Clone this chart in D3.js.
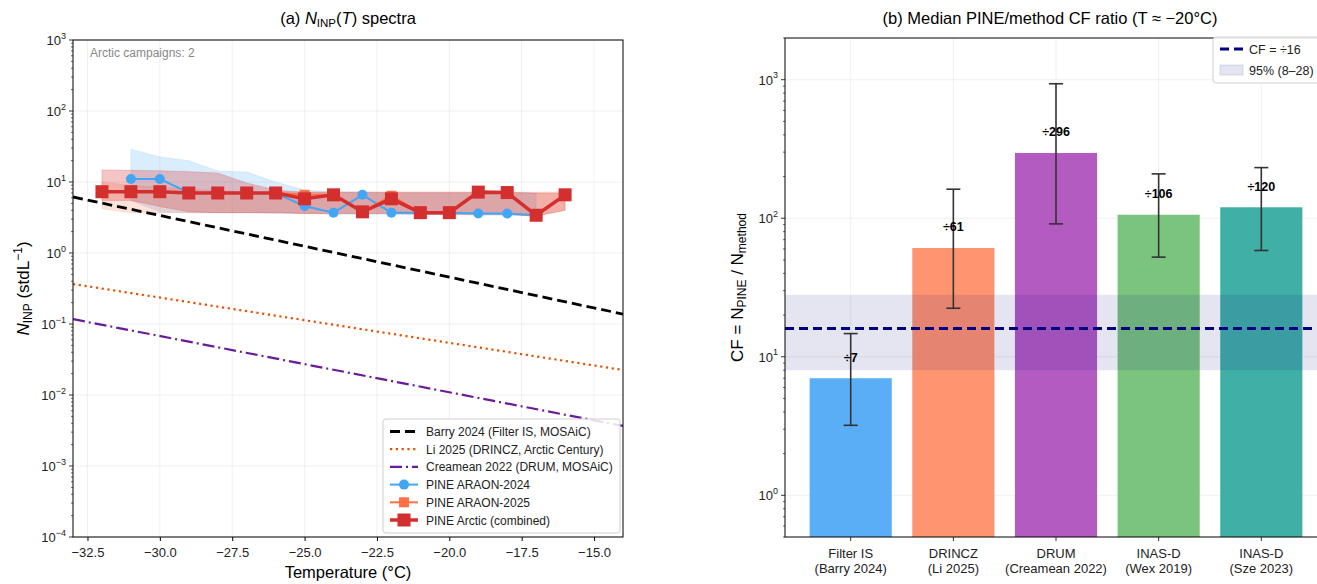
<!DOCTYPE html>
<html lang="en">
<head>
<meta charset="UTF-8">
<title>PINE Arctic INP spectra and CF ratio</title>
<script src="https://cdnjs.cloudflare.com/ajax/libs/d3/7.8.5/d3.min.js"></script>
<style>
  body { margin: 0; background: #fff; }
  svg { font-family: "Liberation Sans", Arial, sans-serif; }
</style>
</head>
<body>
<div id="chart"></div>
<script>
// ---- panel (a): N_INP(T) spectra ----
var tempAll = [-32, -31, -30, -29, -28, -27, -26, -25, -24, -23, -22, -21, -20, -19, -18, -17, -16];
var combinedVals = [7.3, 7.3, 7.3, 7.0, 7.0, 7.0, 7.0, 5.8, 6.6, 3.8, 5.8, 3.7, 3.7, 7.2, 7.1, 3.4, 6.6];
var combinedLo = [5.5, 5.5, 4.5, 3.8, 3.7, 3.7, 3.7, 3.6, 3.6, 3.6, 3.6, 3.5, 3.5, 3.5, 3.5, 3.3, 4.0];
var combinedHi = [14.8, 14.6, 14.4, 14.0, 13.4, 9.7, 7.7, 7.2, 7.2, 7.2, 7.2, 7.2, 7.2, 7.2, 7.2, 7.0, 7.0];
var araon25Vals = [7.3, 7.3, 7.3, 7.0, 7.0, 7.0, 7.0, 6.6, 6.6, 3.8, 6.4, 3.7, 3.7, 7.2, 7.1, 3.4, 6.6];
var araon25Lo = [4.2, 3.7, 3.7, 3.7, 3.7, 3.7, 3.7, 3.6, 3.6, 3.6, 3.6, 3.5, 3.5, 3.5, 3.5, 3.3, 4.0];
var araon25Hi = [10, 9, 8.5, 8, 7.5, 7.3, 7.3, 7.2, 7.2, 7.2, 7.2, 7.2, 7.2, 7.2, 7.2, 7.2, 7.3];

var temp24 = [-31, -30, -29, -28, -27, -26, -25, -24, -23, -22, -21, -20, -19, -18, -17];
var araon24Vals = [11.0, 11.0, 7.1, 7.0, 7.0, 6.9, 4.6, 3.7, 6.6, 3.7, 3.7, 3.7, 3.6, 3.6, 3.4];
var araon24Lo = [5.5, 3.8, 3.7, 3.7, 3.7, 3.6, 3.6, 3.5, 3.5, 3.5, 3.5, 3.5, 3.4, 3.4, 3.3];
var araon24Hi = [29, 22.5, 20, 14.3, 13.8, 10, 7.7, 7.2, 7.2, 7.0, 7.0, 7.0, 7.0, 7.0, 7.0];

// literature parameterisations (straight lines in log space, read at the axis ends)
var refTemps = [-33, -14];
var barryVals = [6.15, 0.138];
var liVals = [0.366, 0.0225];
var creameanVals = [0.117, 0.00366];

var xTicksA = [-32.5, -30, -27.5, -25, -22.5, -20, -17.5, -15];
var yDecadesA = [-4, -3, -2, -1, 0, 1, 2, 3];

// ---- panel (b): CF ratio ----
var methodNames = ["Filter IS", "DRINCZ", "DRUM", "INAS-D", "INAS-D"];
var methodRefs = ["(Barry 2024)", "(Li 2025)", "(Creamean 2022)", "(Wex 2019)", "(Sze 2023)"];
var cfMedian = [7, 61, 296, 106, 120];
var cfLow = [3.2, 22.4, 91, 52.4, 58.5];
var cfHigh = [14.7, 162, 935, 209, 232];
var barColors = ["#5aaef5", "#ff9470", "#b35bc1", "#7ac47d", "#40afa5"];
var cfOverall = 16;
var cfRange = [8, 28];
var yDecadesB = [0, 1, 2, 3];

var W = 1317, H = 584;
var svg = d3.select("#chart").append("svg").attr("width", W).attr("height", H);

function supText(sel, base, exp) {
  sel.text(base);
  sel.append("tspan").attr("dy", -6.5).attr("font-size", 9)
    .text(exp < 0 ? "\u2212" + (-exp) : exp);
}

// ================= panel (a) =================
var A = {l: 73, r: 623, t: 40, b: 537};
var xA = d3.scaleLinear().domain([-33, -14]).range([A.l, A.r]);
var yA = d3.scaleLog().domain([1e-4, 1e3]).range([A.b, A.t]);

svg.append("clipPath").attr("id", "clipA").append("rect")
  .attr("x", A.l).attr("y", A.t).attr("width", A.r - A.l).attr("height", A.b - A.t);

var gA = svg.append("g");
// grid
gA.selectAll(".vgrid").data(xTicksA).enter().append("line")
  .attr("x1", d => xA(d)).attr("x2", d => xA(d)).attr("y1", A.t).attr("y2", A.b)
  .attr("stroke", "#ececec").attr("stroke-width", 0.8);
gA.selectAll(".hgrid").data(yDecadesA).enter().append("line")
  .attr("x1", A.l).attr("x2", A.r).attr("y1", d => yA(Math.pow(10, d))).attr("y2", d => yA(Math.pow(10, d)))
  .attr("stroke", "#ececec").attr("stroke-width", 0.8);

var plotA = gA.append("g").attr("clip-path", "url(#clipA)");

function bandData(ts, lo, hi) { return ts.map((t, i) => ({t: t, lo: lo[i], hi: hi[i]})); }
var area = d3.area().x(d => xA(d.t)).y0(d => yA(d.lo)).y1(d => yA(d.hi));
plotA.append("path").datum(bandData(temp24, araon24Lo, araon24Hi)).attr("d", area)
  .attr("fill", "#42a5f5").attr("fill-opacity", 0.2).attr("stroke", "#42a5f5").attr("stroke-opacity", 0.15);
plotA.append("path").datum(bandData(tempAll, araon25Lo, araon25Hi)).attr("d", area)
  .attr("fill", "#ff7043").attr("fill-opacity", 0.2).attr("stroke", "#ff7043").attr("stroke-opacity", 0.15);
plotA.append("path").datum(bandData(tempAll, combinedLo, combinedHi)).attr("d", area)
  .attr("fill", "#d32f2f").attr("fill-opacity", 0.28).attr("stroke", "#d32f2f").attr("stroke-opacity", 0.2);

var line = d3.line().x(d => xA(d[0])).y(d => yA(d[1]));
function pairs(ts, vs) { return ts.map((t, i) => [t, vs[i]]); }

plotA.append("path").datum(pairs(refTemps, barryVals)).attr("d", line)
  .attr("fill", "none").attr("stroke", "#000").attr("stroke-width", 2.8).attr("stroke-dasharray", "10,5");
plotA.append("path").datum(pairs(refTemps, liVals)).attr("d", line)
  .attr("fill", "none").attr("stroke", "#e65100").attr("stroke-width", 2.2).attr("stroke-dasharray", "2.2,3.6");
plotA.append("path").datum(pairs(refTemps, creameanVals)).attr("d", line)
  .attr("fill", "none").attr("stroke", "#6a1b9a").attr("stroke-width", 2.2).attr("stroke-dasharray", "12,4,2,4");

// ARAON-2024
plotA.append("path").datum(pairs(temp24, araon24Vals)).attr("d", line)
  .attr("fill", "none").attr("stroke", "#42a5f5").attr("stroke-width", 2);
plotA.selectAll(".c24").data(pairs(temp24, araon24Vals)).enter().append("circle")
  .attr("cx", d => xA(d[0])).attr("cy", d => yA(d[1])).attr("r", 5).attr("fill", "#42a5f5");
// ARAON-2025
plotA.append("path").datum(pairs(tempAll, araon25Vals)).attr("d", line)
  .attr("fill", "none").attr("stroke", "#ff7043").attr("stroke-width", 2);
plotA.selectAll(".s25").data(pairs(tempAll, araon25Vals)).enter().append("rect")
  .attr("x", d => xA(d[0]) - 5).attr("y", d => yA(d[1]) - 5).attr("width", 10).attr("height", 10)
  .attr("fill", "#ff7043");
// combined
plotA.append("path").datum(pairs(tempAll, combinedVals)).attr("d", line)
  .attr("fill", "none").attr("stroke", "#d32f2f").attr("stroke-width", 3.5);
plotA.selectAll(".sc").data(pairs(tempAll, combinedVals)).enter().append("rect")
  .attr("x", d => xA(d[0]) - 6.5).attr("y", d => yA(d[1]) - 6.5).attr("width", 13).attr("height", 13)
  .attr("fill", "#d32f2f");

// axes (a)
var axA = d3.axisBottom(xA).tickValues(xTicksA).tickSize(4).tickSizeOuter(0)
  .tickFormat(d3.format(".1f"));
var gxA = gA.append("g").attr("transform", "translate(0," + A.b + ")").call(axA);
gxA.select(".domain").remove();
gxA.selectAll("text").attr("font-size", 13).attr("font-family", "Liberation Sans, Arial").attr("dy", "1.0em").attr("fill", "#222");

var minorA = [];
yDecadesA.forEach(function(e) { if (e < 3) for (var k = 2; k <= 9; k++) minorA.push(k * Math.pow(10, e)); });
gA.selectAll(".minA").data(minorA).enter().append("line")
  .attr("x1", A.l - 2).attr("x2", A.l).attr("y1", d => yA(d)).attr("y2", d => yA(d))
  .attr("stroke", "#000").attr("stroke-width", 0.6);
gA.selectAll(".majA").data(yDecadesA).enter().append("line")
  .attr("x1", A.l - 4).attr("x2", A.l).attr("y1", d => yA(Math.pow(10, d))).attr("y2", d => yA(Math.pow(10, d)))
  .attr("stroke", "#000").attr("stroke-width", 0.8);
gA.selectAll(".labA").data(yDecadesA).enter().append("text")
  .attr("x", A.l - 7).attr("y", d => yA(Math.pow(10, d)) + 5).attr("text-anchor", "end")
  .attr("font-size", 13).attr("fill", "#222")
  .each(function(d) { supText(d3.select(this), "10", d); });

gA.append("rect").attr("x", A.l).attr("y", A.t).attr("width", A.r - A.l).attr("height", A.b - A.t)
  .attr("fill", "none").attr("stroke", "#000").attr("stroke-width", 1);

// titles & labels (a)
var tA = gA.append("text").attr("x", (A.l + A.r) / 2).attr("y", 24).attr("text-anchor", "middle").attr("font-size", 16.5);
tA.append("tspan").text("(a) ");
tA.append("tspan").attr("font-style", "italic").text("N");
tA.append("tspan").attr("font-size", 11.5).attr("dy", 3).text("INP");
tA.append("tspan").attr("dy", -3).text("(");
tA.append("tspan").attr("font-style", "italic").text("T");
tA.append("tspan").text(") spectra");

gA.append("text").attr("x", (A.l + A.r) / 2).attr("y", 578).attr("text-anchor", "middle")
  .attr("font-size", 16.5).text("Temperature (\u00b0C)");

var ylA = gA.append("text").attr("transform", "translate(29," + ((A.t + A.b) / 2) + ") rotate(-90)")
  .attr("text-anchor", "middle").attr("font-size", 17);
ylA.append("tspan").attr("font-style", "italic").text("N");
ylA.append("tspan").attr("font-size", 12).attr("dy", 3).text("INP");
ylA.append("tspan").attr("dy", -3).text(" (stdL");
ylA.append("tspan").attr("font-size", 12).attr("dy", -7).text("\u22121");
ylA.append("tspan").attr("dy", 7).text(")");

gA.append("text").attr("x", 90).attr("y", 57).attr("font-size", 12).attr("fill", "#888")
  .text("Arctic campaigns: 2");

// legend (a)
var legA = gA.append("g").attr("transform", "translate(383,419)");
legA.append("rect").attr("width", 237).attr("height", 114).attr("rx", 3)
  .attr("fill", "#fff").attr("fill-opacity", 0.85).attr("stroke", "#d0d0d0");
var legItems = [
  {label: "Barry 2024 (Filter IS, MOSAiC)", color: "#000", w: 2.8, dash: "10,5"},
  {label: "Li 2025 (DRINCZ, Arctic Century)", color: "#e65100", w: 2.2, dash: "2.2,3.6"},
  {label: "Creamean 2022 (DRUM, MOSAiC)", color: "#6a1b9a", w: 2.2, dash: "12,4,2,4"},
  {label: "PINE ARAON-2024", color: "#42a5f5", w: 2, marker: "circle", ms: 5},
  {label: "PINE ARAON-2025", color: "#ff7043", w: 2, marker: "square", ms: 10},
  {label: "PINE Arctic (combined)", color: "#d32f2f", w: 3.5, marker: "square", ms: 13}
];
legItems.forEach(function(it, i) {
  var y = 12.5 + i * 17.7;
  legA.append("line").attr("x1", 7).attr("x2", 35).attr("y1", y).attr("y2", y)
    .attr("stroke", it.color).attr("stroke-width", it.w).attr("stroke-dasharray", it.dash || null);
  if (it.marker === "circle") legA.append("circle").attr("cx", 21).attr("cy", y).attr("r", it.ms).attr("fill", it.color);
  if (it.marker === "square") legA.append("rect").attr("x", 21 - it.ms / 2).attr("y", y - it.ms / 2)
    .attr("width", it.ms).attr("height", it.ms).attr("fill", it.color);
  legA.append("text").attr("x", 43).attr("y", y + 4.5).attr("font-size", 12).attr("fill", "#222").text(it.label);
});

// ================= panel (b) =================
var B = {l: 785, r: 1327, t: 38, b: 537};
var xB = d3.scaleLinear().domain([-0.64, 4.64]).range([B.l, B.r]);
var yB = d3.scaleLog().domain([0.5, 2000]).range([B.b, B.t]);
var gB = svg.append("g");

var idx = d3.range(cfMedian.length);
gB.selectAll(".vgB").data(idx).enter().append("line")
  .attr("x1", d => xB(d)).attr("x2", d => xB(d)).attr("y1", B.t).attr("y2", B.b)
  .attr("stroke", "#ececec").attr("stroke-width", 0.8);
gB.selectAll(".hgB").data(yDecadesB).enter().append("line")
  .attr("x1", B.l).attr("x2", B.r).attr("y1", d => yB(Math.pow(10, d))).attr("y2", d => yB(Math.pow(10, d)))
  .attr("stroke", "#ececec").attr("stroke-width", 0.8);

var bw = xB(0.4) - xB(-0.4);
gB.selectAll(".bar").data(idx).enter().append("rect")
  .attr("x", d => xB(d - 0.4)).attr("width", bw)
  .attr("y", d => yB(cfMedian[d])).attr("height", d => yB(0.5) - yB(cfMedian[d]))
  .attr("fill", d => barColors[d]);

// 95% band + overall CF
gB.append("rect").attr("x", B.l).attr("width", B.r - B.l)
  .attr("y", yB(cfRange[1])).attr("height", yB(cfRange[0]) - yB(cfRange[1]))
  .attr("fill", "#000080").attr("fill-opacity", 0.1);
gB.append("line").attr("x1", B.l).attr("x2", B.r).attr("y1", yB(cfOverall)).attr("y2", yB(cfOverall))
  .attr("stroke", "#000080").attr("stroke-width", 2.8).attr("stroke-dasharray", "9,5");

// error bars
var eb = gB.selectAll(".eb").data(idx).enter().append("g");
eb.append("line").attr("x1", d => xB(d)).attr("x2", d => xB(d))
  .attr("y1", d => yB(cfLow[d])).attr("y2", d => yB(cfHigh[d])).attr("stroke", "#333").attr("stroke-width", 1.6);
eb.append("line").attr("x1", d => xB(d) - 7).attr("x2", d => xB(d) + 7)
  .attr("y1", d => yB(cfLow[d])).attr("y2", d => yB(cfLow[d])).attr("stroke", "#333").attr("stroke-width", 1.6);
eb.append("line").attr("x1", d => xB(d) - 7).attr("x2", d => xB(d) + 7)
  .attr("y1", d => yB(cfHigh[d])).attr("y2", d => yB(cfHigh[d])).attr("stroke", "#333").attr("stroke-width", 1.6);
eb.append("text").attr("x", d => xB(d)).attr("y", d => yB(cfMedian[d] * 1.32))
  .attr("text-anchor", "middle").attr("font-size", 12.5).attr("font-weight", "bold")
  .text(d => "\u00f7" + cfMedian[d]);

// axes (b)
gB.selectAll(".tkB").data(idx).enter().append("line")
  .attr("x1", d => xB(d)).attr("x2", d => xB(d)).attr("y1", B.b).attr("y2", B.b + 4)
  .attr("stroke", "#000").attr("stroke-width", 0.8);
var xl = gB.selectAll(".xlB").data(idx).enter().append("text")
  .attr("text-anchor", "middle").attr("font-size", 13).attr("fill", "#222");
xl.append("tspan").attr("x", d => xB(d)).attr("y", 558).text(d => methodNames[d]);
xl.append("tspan").attr("x", d => xB(d)).attr("y", 573).text(d => methodRefs[d]);

var minorB = [0.5, 0.6, 0.7, 0.8, 0.9];
[0, 1, 2].forEach(function(e) { for (var k = 2; k <= 9; k++) minorB.push(k * Math.pow(10, e)); });
minorB.push(2000);
gB.selectAll(".minB").data(minorB).enter().append("line")
  .attr("x1", B.l - 2).attr("x2", B.l).attr("y1", d => yB(d)).attr("y2", d => yB(d))
  .attr("stroke", "#000").attr("stroke-width", 0.6);
gB.selectAll(".majB").data(yDecadesB).enter().append("line")
  .attr("x1", B.l - 4).attr("x2", B.l).attr("y1", d => yB(Math.pow(10, d))).attr("y2", d => yB(Math.pow(10, d)))
  .attr("stroke", "#000").attr("stroke-width", 0.8);
gB.selectAll(".labB").data(yDecadesB).enter().append("text")
  .attr("x", B.l - 7).attr("y", d => yB(Math.pow(10, d)) + 5).attr("text-anchor", "end")
  .attr("font-size", 13).attr("fill", "#222")
  .each(function(d) { supText(d3.select(this), "10", d); });

gB.append("rect").attr("x", B.l).attr("y", B.t).attr("width", B.r - B.l).attr("height", B.b - B.t)
  .attr("fill", "none").attr("stroke", "#000").attr("stroke-width", 1);

gB.append("text").attr("x", 1050).attr("y", 24).attr("text-anchor", "middle").attr("font-size", 16.5)
  .text("(b) Median PINE/method CF ratio (T \u2248 \u221220\u00b0C)");

var ylB = gB.append("text").attr("transform", "translate(743," + ((B.t + B.b) / 2) + ") rotate(-90)")
  .attr("text-anchor", "middle").attr("font-size", 17);
ylB.append("tspan").text("CF = N");
ylB.append("tspan").attr("font-size", 12).attr("dy", 3).text("PINE");
ylB.append("tspan").attr("dy", -3).text(" / N");
ylB.append("tspan").attr("font-size", 12).attr("dy", 3).text("method");

// legend (b)
var legB = gB.append("g").attr("transform", "translate(1213,37)");
legB.append("rect").attr("width", 115).attr("height", 46).attr("rx", 3)
  .attr("fill", "#fff").attr("fill-opacity", 0.85).attr("stroke", "#d0d0d0");
legB.append("line").attr("x1", 7).attr("x2", 30).attr("y1", 12).attr("y2", 12)
  .attr("stroke", "#000080").attr("stroke-width", 2.8).attr("stroke-dasharray", "9,5");
legB.append("text").attr("x", 36).attr("y", 16.5).attr("font-size", 12.5).attr("fill", "#222")
  .text("CF = \u00f7" + cfOverall);
legB.append("rect").attr("x", 7).attr("y", 28).attr("width", 23).attr("height", 10)
  .attr("fill", "#000080").attr("fill-opacity", 0.1).attr("stroke", "#000080").attr("stroke-opacity", 0.12);
legB.append("text").attr("x", 36).attr("y", 37.5).attr("font-size", 12.5).attr("fill", "#222")
  .text("95% (" + cfRange[0] + "\u2013" + cfRange[1] + ")");
</script>
</body>
</html>
